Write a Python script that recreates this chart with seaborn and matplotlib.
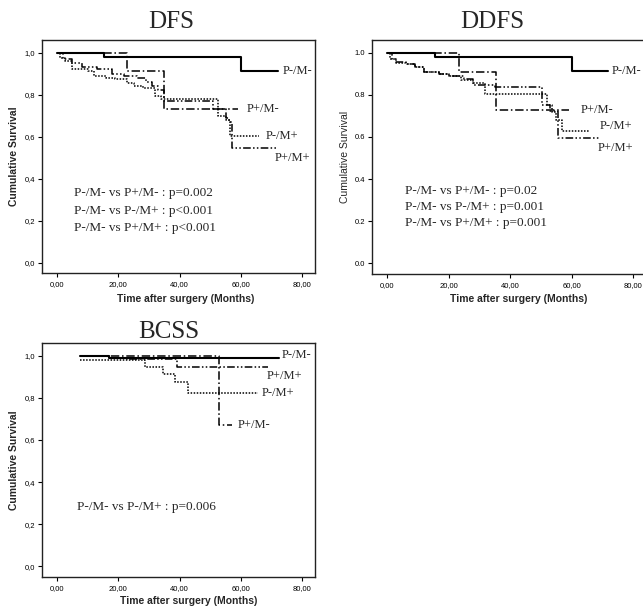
import numpy as np
import pandas as pd
import seaborn as sns
import matplotlib.pyplot as plt
from matplotlib.ticker import FuncFormatter

sns.set_style('ticks')
plt.rcParams['font.family'] = ['Liberation Sans', 'DejaVu Sans']

groups = ['P-/M-', 'P+/M-', 'P-/M+', 'P+/M+']

# DFS (time in months, cumulative survival)
dfs_pmm_t = [0, 15.3, 60, 72]
dfs_pmm_s = [1.0, 0.98, 0.914, 0.914]
dfs_ppm_t = [0, 23, 35, 59]
dfs_ppm_s = [1.0, 0.91, 0.733, 0.733]
dfs_pmp_t = [0, 1, 2.5, 5, 10, 12, 16, 19, 23, 25, 28, 32, 34, 52.5, 55, 56.5, 66]
dfs_pmp_s = [1.0, 0.976, 0.96, 0.924, 0.91, 0.89, 0.88, 0.876, 0.857, 0.843, 0.83, 0.795, 0.78, 0.70, 0.68, 0.605, 0.605]
dfs_ppp_t = [0, 2, 5, 8, 13, 18, 22, 26, 29, 31, 33, 35, 51, 55, 56, 57, 72]
dfs_ppp_s = [1.0, 0.97, 0.95, 0.93, 0.92, 0.90, 0.89, 0.88, 0.86, 0.84, 0.82, 0.77, 0.73, 0.69, 0.67, 0.545, 0.545]

# DDFS
ddfs_pmm_t = [0, 15.6, 60, 72]
ddfs_pmm_s = [1.0, 0.98, 0.914, 0.914]
ddfs_ppm_t = [0, 23.4, 35.4, 59]
ddfs_ppm_s = [1.0, 0.91, 0.73, 0.73]
ddfs_pmp_t = [0, 1, 3, 6, 9, 12, 17, 20, 24, 28, 32, 52, 53.5, 55, 57, 66]
ddfs_pmp_s = [1.0, 0.97, 0.95, 0.945, 0.93, 0.91, 0.90, 0.89, 0.87, 0.855, 0.805, 0.75, 0.72, 0.68, 0.63, 0.63]
ddfs_ppp_t = [0, 1.5, 3, 6, 9, 12, 17, 20, 25, 28, 35, 50.5, 53, 55.5, 69]
ddfs_ppp_s = [1.0, 0.97, 0.955, 0.945, 0.93, 0.91, 0.90, 0.89, 0.875, 0.845, 0.838, 0.75, 0.724, 0.595, 0.595]

# BCSS
bcss_pmm_t = [7.5, 17, 72.5]
bcss_pmm_s = [1.0, 0.99, 0.99]
bcss_ppm_t = [7.5, 53, 57]
bcss_ppm_s = [1.0, 0.67, 0.67]
bcss_pmp_t = [7.5, 28.7, 34.5, 38.5, 42.7, 65.5]
bcss_pmp_s = [0.98, 0.947, 0.914, 0.876, 0.825, 0.825]
bcss_ppp_t = [7.5, 17, 23, 39, 69]
bcss_ppp_s = [1.0, 0.99, 0.985, 0.945, 0.945]

dfs_pvals = ['P-/M- vs P+/M- : p=0.002', 'P-/M- vs P-/M+ : p<0.001', 'P-/M- vs P+/M+ : p<0.001']
ddfs_pvals = ['P-/M- vs P+/M- : p=0.02', 'P-/M- vs P-/M+ : p=0.001', 'P-/M- vs P+/M+ : p=0.001']
bcss_pvals = ['P-/M- vs P-/M+ : p=0.006']

styles = {
    'P-/M-': dict(linestyle='-', linewidth=1.5),
    'P+/M-': dict(linestyle=(0, (5.5, 1.8, 1, 1.8)), linewidth=1.1),
    'P-/M+': dict(linestyle=(0, (1, 1)), linewidth=1.1),
    'P+/M+': dict(linestyle=(0, (5, 1.5, 1, 1.5, 1, 1.5)), linewidth=1.1),
}

W, H = 643, 611
fig = plt.figure(figsize=(W / 100, H / 100), dpi=100)


def px_rect(left, top, right, bottom):
    return [left / W, 1 - bottom / H, (right - left) / W, (bottom - top) / H]


panels = [
    dict(title='DFS', rect=px_rect(42, 40, 315, 273), title_xy=(171, 22),
         curves=[(dfs_pmm_t, dfs_pmm_s), (dfs_ppm_t, dfs_ppm_s), (dfs_pmp_t, dfs_pmp_s), (dfs_ppp_t, dfs_ppp_s)],
         offs=[(5, 0), (9, 0), (6, 0), (-3, -10)],
         pvals=dfs_pvals, pv_xy=(0.117, [0.343, 0.266, 0.193]),
         ylab_x=14, ylab_bold=True, xlab_xy=(186, 299), comma=True),
    dict(title='DDFS', rect=px_rect(372, 40, 646, 274), title_xy=(492, 22),
         curves=[(ddfs_pmm_t, ddfs_pmm_s), (ddfs_ppm_t, ddfs_ppm_s), (ddfs_pmp_t, ddfs_pmp_s), (ddfs_ppp_t, ddfs_ppp_s)],
         offs=[(3, 0), (12, 0), (10, 5), (-2, -10)],
         pvals=ddfs_pvals, pv_xy=(0.12, [0.355, 0.286, 0.218]),
         ylab_x=345, ylab_bold=False, xlab_xy=(519, 299), comma=False),
    dict(title='BCSS', rect=px_rect(42, 343, 315, 577), title_xy=(169, 332),
         curves=[(bcss_pmm_t, bcss_pmm_s), (bcss_ppm_t, bcss_ppm_s), (bcss_pmp_t, bcss_pmp_s), (bcss_ppp_t, bcss_ppp_s)],
         offs=[(3, 3), (6, 0), (4, 0), (-2, -9)],
         pvals=bcss_pvals, pv_xy=(0.128, [0.299]),
         ylab_x=14, ylab_bold=True, xlab_xy=(189, 601), comma=True),
]

for p in panels:
    ax = fig.add_axes(p['rect'])
    for g, (t, s), (dx, dy) in zip(groups, p['curves'], p['offs']):
        df = pd.DataFrame({'t': t, 's': s})
        sns.lineplot(data=df, x='t', y='s', ax=ax, color='black', estimator=None,
                     drawstyle='steps-post', legend=False, **styles[g])
        ax.annotate(g, xy=(t[-1], s[-1]), xytext=(dx, dy), textcoords='offset pixels',
                    ha='left', va='center', fontsize=9, family='Liberation Serif')
    x0, ys = p['pv_xy']
    for txt, yy in zip(p['pvals'], ys):
        ax.text(x0, yy, txt, transform=ax.transAxes, fontsize=9.5,
                family='Liberation Serif', va='center', ha='left')

    ax.set_xlim(-4.9, 84.2)
    ax.set_ylim(-0.05, 1.06)
    ax.set_xticks([0, 20, 40, 60, 80])
    ax.set_yticks([0, 0.2, 0.4, 0.6, 0.8, 1.0])
    ax.xaxis.set_major_formatter(FuncFormatter(lambda v, pos: f'{v:.2f}'.replace('.', ',')))
    if p['comma']:
        ax.yaxis.set_major_formatter(FuncFormatter(lambda v, pos: f'{v:.1f}'.replace('.', ',')))
    else:
        ax.yaxis.set_major_formatter(FuncFormatter(lambda v, pos: f'{v:.1f}'))
    ax.tick_params(direction='out', length=3, width=0.8, labelsize=5.5, pad=2, colors='black')
    ax.tick_params(axis='x', pad=3)
    for sp in ax.spines.values():
        sp.set_visible(True)
        sp.set_linewidth(1.0)
        sp.set_color('#222222')
    ax.set_xlabel('')
    ax.set_ylabel('')

    fig.text(p['title_xy'][0] / W, 1 - p['title_xy'][1] / H, p['title'], fontsize=18,
             family='Liberation Serif', ha='center', va='center')
    fig.text(p['ylab_x'] / W, p['rect'][1] + p['rect'][3] / 2, 'Cumulative Survival', rotation=90,
             fontsize=7.5, fontweight='bold' if p['ylab_bold'] else 'normal', ha='center', va='center')
    fig.text(p['xlab_xy'][0] / W, 1 - p['xlab_xy'][1] / H, 'Time after surgery (Months)',
             fontsize=7.5, fontweight='bold', ha='center', va='center')

fig.savefig('out.png', dpi=100)
